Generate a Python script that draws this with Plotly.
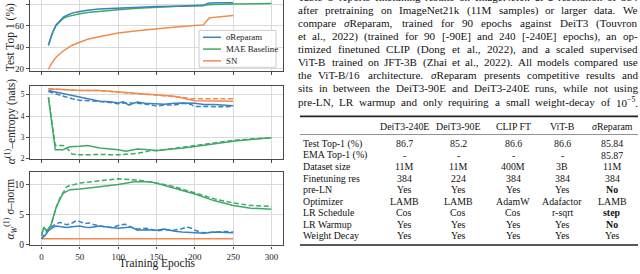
import re
import plotly.graph_objects as go

W, H = 640, 274

# ---------------- data ----------------
X_TICKS = [0, 50, 100, 150, 200, 250, 300]

# Panel 1: Test Top 1 (%)
EP_TOP1_REPARAM = [9, 14, 19, 24, 29, 35, 40, 50, 60, 75, 100, 125, 150, 175, 200, 211, 215, 219, 230, 250]
TOP1_REPARAM = [42, 53, 61, 65, 68.5, 70.5, 72, 73.5, 74.8, 75.8, 76.8, 77.5, 78.1, 78.5, 78.8, 79, 80.5, 81.5, 81.7, 81.8]
EP_TOP1_MAE = [9, 14, 19, 24, 29, 35, 40, 50, 60, 75, 100, 125, 150, 175, 200, 225, 250, 275, 300]
TOP1_MAE = [42, 53, 60.5, 64.5, 67.5, 69, 70, 71.5, 72.5, 73.6, 75.1, 76.5, 77.6, 78.7, 79.6, 80.2, 80.6, 80.8, 81]
EP_TOP1_SN = [9, 14, 20, 25, 30, 40, 50, 60, 75, 100, 125, 150, 175, 200, 211, 215, 219, 230, 250]
TOP1_SN = [19.5, 26, 31.5, 35, 37.5, 42, 45, 47.5, 50, 53.5, 55.5, 57.5, 59, 60.5, 61, 64.5, 67.5, 68.5, 69.8]

# Panel 2: attention entropy (nats)
EP_ENT_REPARAM = [9, 20, 30, 50, 65, 76, 90, 100, 107, 114, 120, 125, 135, 150, 160, 173, 185, 200, 212, 225, 240, 250]
ENT_REPARAM = [5.2, 5.12, 5.03, 4.92, 4.8, 4.7, 4.68, 4.62, 4.67, 4.52, 4.6, 4.66, 4.6, 4.58, 4.56, 4.6, 4.62, 4.6, 4.55, 4.55, 4.53, 4.49]
EP_ENT_REPARAM_D = [9, 20, 30, 40, 50, 65, 76, 90, 100, 110, 125, 140, 150, 160, 173, 185, 195, 200, 215, 230, 250]
ENT_REPARAM_D = [5.16, 5.02, 4.92, 4.82, 4.74, 4.72, 4.7, 4.64, 4.58, 4.62, 4.6, 4.55, 4.47, 4.52, 4.52, 4.6, 4.55, 4.45, 4.46, 4.44, 4.45]
EP_ENT_MAE = [9, 18, 28, 37, 50, 60, 76, 90, 100, 110, 125, 140, 150, 160, 173, 185, 200, 225, 250, 273, 300]
ENT_MAE = [4.88, 2.42, 2.42, 2.56, 2.58, 2.62, 2.5, 2.46, 2.42, 2.35, 2.45, 2.42, 2.37, 2.42, 2.45, 2.5, 2.57, 2.7, 2.82, 2.9, 2.98]
EP_ENT_MAE_D = [9, 18, 28, 33, 40, 50, 76, 100, 125, 142, 160, 173, 200, 225, 250, 273, 300]
ENT_MAE_D = [4.88, 2.62, 2.62, 2.5, 2.22, 2.18, 2.2, 2.18, 2.25, 2.38, 2.42, 2.48, 2.6, 2.75, 2.86, 2.93, 2.98]
EP_ENT_SN = [9, 20, 50, 76, 100, 125, 150, 173, 190, 200, 250]
ENT_SN = [5.28, 5.26, 5.2, 5.2, 5.13, 5.05, 5.0, 4.93, 4.8, 4.72, 4.7]
EP_ENT_SN_D = [9, 20, 50, 76, 100, 125, 150, 173, 185, 195, 250]
ENT_SN_D = [5.28, 5.26, 5.21, 5.2, 5.12, 5.05, 4.99, 4.94, 4.88, 4.82, 4.82]

# Panel 3: sigma-norm
EP_SIG_REPARAM = [0, 5, 9, 14, 19, 25, 33, 40, 50, 57, 63, 70, 76, 88, 100, 110, 117, 125, 137, 150, 160, 172, 183, 195, 200, 212, 225, 240, 250]
SIG_REPARAM = [1.0, 1.6, 2.3, 2.8, 3.1, 3.0, 2.85, 3.0, 3.1, 2.9, 2.85, 3.0, 3.1, 2.9, 2.75, 2.85, 2.95, 2.4, 2.5, 2.4, 2.6, 2.3, 2.1, 2.05, 2.0, 1.9, 2.1, 2.0, 2.0]
EP_SIG_REPARAM_D = [0, 5, 9, 14, 19, 24, 33, 40, 46, 52, 57, 63, 69, 76, 84, 92, 100, 109, 117, 125, 137, 150, 160, 172, 182, 190, 196, 200, 210, 225, 240, 250]
SIG_REPARAM_D = [1.0, 1.8, 2.6, 3.1, 3.4, 3.7, 3.3, 3.6, 4.0, 3.7, 3.5, 3.6, 3.3, 3.1, 3.0, 2.85, 3.2, 3.4, 2.9, 2.6, 2.75, 2.3, 2.5, 2.4, 2.6, 2.95, 2.7, 2.4, 2.0, 2.1, 2.2, 2.1]
EP_SIG_MAE = [0, 3, 6, 9, 12, 15, 19, 24, 28, 37, 50, 76, 100, 121, 142, 155, 173, 200, 225, 250, 273, 300]
SIG_MAE = [1.5, 2.9, 2.4, 2.6, 3.1, 4.5, 6.1, 7.5, 8.5, 9.1, 9.2, 9.6, 9.95, 10.4, 10.4, 10.0, 9.35, 8.4, 7.3, 6.5, 6.05, 5.85]
EP_SIG_MAE_D = [0, 3, 6, 9, 12, 15, 19, 24, 33, 50, 76, 100, 125, 150, 173, 200, 225, 250, 273, 300]
SIG_MAE_D = [1.5, 2.9, 2.4, 2.6, 3.1, 4.5, 6.1, 7.7, 9.6, 10.2, 10.55, 10.9, 10.7, 10.2, 9.6, 8.5, 7.6, 6.9, 6.5, 6.33]
EP_SIG_SN = [0, 250]
SIG_SN = [1.0, 1.0]

# Paragraph text (right)
PARA_LINES = [
    "Table 3 reports finetuning results on ImageNet1k at a resolution of 384",
    "after pretraining on ImageNet21k (11M samples) or larger data. We",
    "compare <i>σ</i>Reparam, trained for 90 epochs against DeiT3 (Touvron",
    "et al., 2022) (trained for 90 [-90E] and 240 [-240E] epochs), an op-",
    "timized finetuned CLIP (Dong et al., 2022), and a scaled supervised",
    "ViT-B trained on JFT-3B (Zhai et al., 2022). All models compared use",
    "the ViT-B/16 architecture. <i>σ</i>Reparam presents competitive results and",
    "sits in between the DeiT3-90E and DeiT3-240E runs, while not using",
    "pre-LN, LR warmup and only requiring a small weight-decay of 10<sup>−5</sup>.",
]

# Table
TABLE_COLS = ["DeiT3-240E", "DeiT3-90E", "CLIP FT", "ViT-B", "<i>σ</i>Reparam"]
TABLE_ROWS = ["Test Top-1 (%)", "EMA Top-1 (%)", "Dataset size", "Finetuning res", "pre-LN",
              "Optimizer", "LR Schedule", "LR Warmup", "Weight Decay"]
TABLE_CELLS = [
    ["86.7", "85.2", "86.6", "86.6", "85.84"],
    ["-", "-", "-", "-", "85.87"],
    ["11M", "11M", "400M", "3B", "11M"],
    ["384", "224", "384", "384", "384"],
    ["Yes", "Yes", "Yes", "Yes", "<b>No</b>"],
    ["LAMB", "LAMB", "AdamW", "Adafactor", "LAMB"],
    ["Cos", "Cos", "Cos", "r-sqrt", "<b>step</b>"],
    ["Yes", "Yes", "Yes", "Yes", "<b>No</b>"],
    ["Yes", "Yes", "Yes", "Yes", "Yes"],
]

# ---------------- style ----------------
BLUE = "#3a82c2"
GREEN = "#40a968"
ORANGE = "#f58a4f"
FRAME = "#4a4a4a"
GRID = "#dadada"
TXT = "#1a1a1a"
SERIF = "Liberation Serif, Times New Roman, serif"
DASH = "5px,2.5px"


def px(x):
    return x / W


def py(y):
    return 1 - y / H


fig = go.Figure()


def add(xs, ys, color, axis, dash="solid"):
    fig.add_trace(go.Scatter(x=xs, y=ys, mode="lines", xaxis="x" + axis, yaxis="y" + axis,
                             line=dict(color=color, width=1.5, dash=dash), showlegend=False,
                             hoverinfo="skip"))


# panel 1
add(EP_TOP1_SN, TOP1_SN, ORANGE, "")
add(EP_TOP1_MAE, TOP1_MAE, GREEN, "")
add(EP_TOP1_REPARAM, TOP1_REPARAM, BLUE, "")
# panel 2
add(EP_ENT_SN, ENT_SN, ORANGE, "2")
add(EP_ENT_SN_D, ENT_SN_D, ORANGE, "2", DASH)
add(EP_ENT_REPARAM, ENT_REPARAM, BLUE, "2")
add(EP_ENT_REPARAM_D, ENT_REPARAM_D, BLUE, "2", DASH)
add(EP_ENT_MAE, ENT_MAE, GREEN, "2")
add(EP_ENT_MAE_D, ENT_MAE_D, GREEN, "2", DASH)
# panel 3
add(EP_SIG_SN, SIG_SN, ORANGE, "3")
add(EP_SIG_REPARAM, SIG_REPARAM, BLUE, "3")
add(EP_SIG_REPARAM_D, SIG_REPARAM_D, BLUE, "3", DASH)
add(EP_SIG_MAE, SIG_MAE, GREEN, "3")
add(EP_SIG_MAE_D, SIG_MAE_D, GREEN, "3", DASH)

XDOM = [px(30), px(283)]
XRANGE = [-15, 315]


def xax(anchor, labels, mirror=True):
    return dict(domain=XDOM, anchor=anchor, range=XRANGE, tickvals=X_TICKS,
                showticklabels=labels, showline=True, mirror=mirror, linecolor=FRAME,
                linewidth=1.2, showgrid=True, gridcolor=GRID, gridwidth=1, ticks="outside",
                ticklen=2.5, tickcolor=FRAME, tickwidth=1, zeroline=False,
                tickfont=dict(family=SERIF, size=9, color=TXT))


def yax(anchor, dom, rng, vals, fsize):
    return dict(domain=dom, anchor=anchor, range=rng, tickvals=vals, showline=True, mirror=True,
                linecolor=FRAME, linewidth=1.2, showgrid=True, gridcolor=GRID, gridwidth=1,
                ticks="outside", ticklen=3, tickcolor=FRAME, tickwidth=1, zeroline=False,
                tickfont=dict(family=SERIF, size=fsize, color=TXT))


fig.update_layout(
    width=W, height=H, margin=dict(l=0, r=0, t=0, b=0),
    paper_bgcolor="white", plot_bgcolor="white",
    xaxis=xax("y", False, mirror=False),
    xaxis2=xax("y2", False),
    xaxis3=xax("y3", True),
    yaxis=yax("x", [py(72.7), 1], [17.5, 84.3], [20, 40, 60, 80], 9),
    yaxis2=yax("x2", [py(162.3), py(87.7)], [1.97, 5.41], [2, 3, 4, 5], 7.5),
    yaxis3=yax("x3", [py(250), py(175.3)], [-0.1, 12.0], [0, 5, 10], 9.5),
    showlegend=False,
)

ann = []
shapes = []


def note(text, x, y, size, xanchor="center", angle=0, color=TXT):
    ann.append(dict(text=text, x=px(x), y=py(y), xref="paper", yref="paper", showarrow=False,
                    xanchor=xanchor, yanchor="middle", textangle=angle, borderpad=0, borderwidth=0,
                    font=dict(family=SERIF, size=size, color=color)))


# axis titles
note("Training Epochs", 156.5, 268.2, 11.5)
note("Test Top 1 (%)", 10, 38, 11.5, angle=-90)
note("<i>α</i><sup>(1)</sup>–entropy (nats)", 10.5, 124, 11.5, angle=-90)
note("<i>α</i><sub><i>W</i></sub><sup>(1)</sup> <i>σ</i>–norm", 10.5, 213, 11.5, angle=-90)

# legend (manual, matplotlib-like box)
shapes.append(dict(type="rect", xref="paper", yref="paper", x0=px(199), x1=px(276), y0=py(68.5),
                   y1=py(31), line=dict(color="#cccccc", width=1), fillcolor="rgba(255,255,255,0.85)",
                   layer="above"))
LEGEND = [("<i>σ</i>Reparam", BLUE, 38), ("MAE Baseline", GREEN, 50), ("SN", ORANGE, 62)]
for label, color, y in LEGEND:
    shapes.append(dict(type="line", xref="paper", yref="paper", x0=px(203), x1=px(221), y0=py(y),
                       y1=py(y), line=dict(color=color, width=1.5), layer="above"))
    note(label, 226, y, 8.8, xanchor="left")

# paragraph, justified word by word (Times metrics, 1/1000 em)
TW = {' ': 250, 'a': 444, 'b': 500, 'c': 444, 'd': 500, 'e': 444, 'f': 333, 'g': 500, 'h': 500,
      'i': 278, 'j': 278, 'k': 500, 'l': 278, 'm': 778, 'n': 500, 'o': 500, 'p': 500, 'q': 500,
      'r': 333, 's': 389, 't': 278, 'u': 500, 'v': 500, 'w': 722, 'x': 500, 'y': 500, 'z': 444,
      'A': 722, 'B': 667, 'C': 667, 'D': 722, 'E': 611, 'F': 556, 'G': 722, 'H': 722, 'I': 333,
      'J': 389, 'K': 722, 'L': 611, 'M': 889, 'N': 722, 'O': 722, 'P': 556, 'Q': 722, 'R': 667,
      'S': 556, 'T': 611, 'U': 722, 'V': 722, 'W': 944, 'X': 722, 'Y': 722, 'Z': 611,
      '(': 333, ')': 333, '[': 333, ']': 333, '.': 250, ',': 250, '-': 333, ':': 278, '%': 833,
      '/': 278, '−': 564, 'σ': 550}


def width(word, size):
    sup = re.findall(r"<sup>(.*?)</sup>", word)
    base = re.sub(r"<sup>.*?</sup>", "", word)
    base = re.sub(r"<[^>]+>", "", base)
    w = sum(TW.get(ch, 500) for ch in base)
    w += sum(0.7 * TW.get(ch, 500) for s in sup for ch in s)
    return w * size / 1000.0


PSIZE = 11.1
LEFT, RIGHT = 298, 638
for i, line in enumerate(PARA_LINES):
    y = -3.0 + 13.3 * i
    words = line.split(" ")
    ws = [width(w, PSIZE) for w in words]
    gap = (RIGHT - LEFT - sum(ws)) / (len(words) - 1)
    x = LEFT
    for k, (w, wd) in enumerate(zip(words, ws)):
        if k == len(words) - 1:
            note(w, RIGHT, y, PSIZE, xanchor="right", color="#111")
        else:
            note(w, x, y, PSIZE, xanchor="left", color="#111")
        x += wd + gap

# table
TSIZE = 9.9
COL_X = [404, 458, 513, 562, 612]
for cx, name in zip(COL_X, TABLE_COLS):
    note(name, cx, 128.5, TSIZE, color="#111")
for r, (rname, cells) in enumerate(zip(TABLE_ROWS, TABLE_CELLS)):
    y = 146.5 + 11.7 * r
    note(rname, 303, y, TSIZE, xanchor="left", color="#111")
    for cx, c in zip(COL_X, cells):
        note(c, cx, y, TSIZE, color="#111")

for y, w, col in [(118.5, 1.6, "#222"), (137, 0.8, "#777"), (249.5, 1.6, "#222")]:
    shapes.append(dict(type="line", xref="paper", yref="paper", x0=px(300), x1=px(638), y0=py(y),
                       y1=py(y), line=dict(color=col, width=w)))

fig.update_layout(annotations=ann, shapes=shapes)
fig.write_html("out.html", config={"displayModeBar": False},
               post_script="document.body.style.margin='0';")
